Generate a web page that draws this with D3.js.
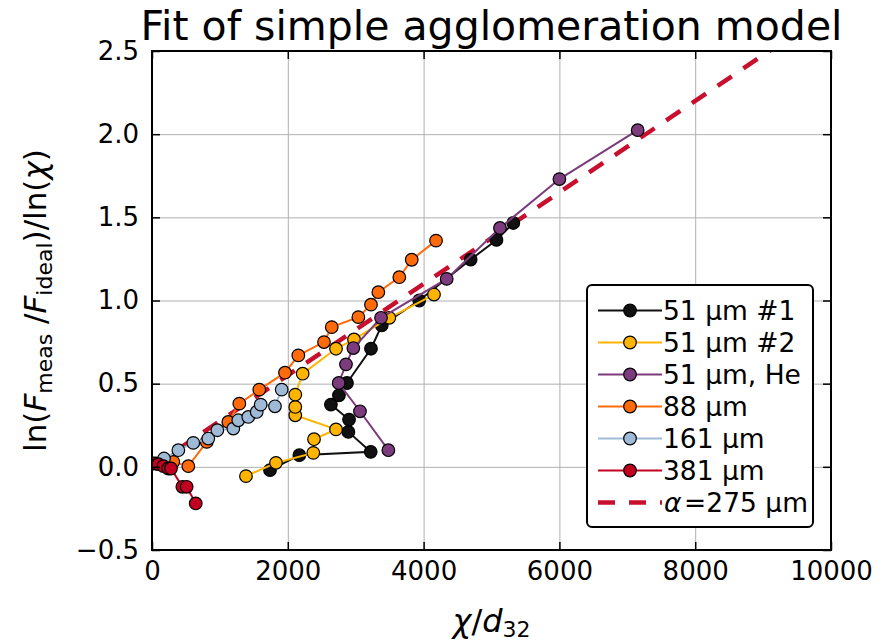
<!DOCTYPE html>
<html>
<head>
<meta charset="utf-8">
<script src="https://cdn.jsdelivr.net/npm/d3@7"></script>
<style>
    body { margin: 0; background: #fff; }
    text { font-family: "DejaVu Sans", sans-serif; fill: #000; }
    .grid line { stroke: #b0b0b0; stroke-width: 1; }
    .grid path { display: none; }
    .axis path { display: none; }
    .axis line { stroke: #000; stroke-width: 1.5; }
    .axis text { font-size: 26px; }
</style>
</head>
<body>
<script>
//series values (x = chi/d32, y = ln(Fmeas/Fideal)/ln(chi))
var seriesNames = ["51 \u00b5m #1", "51 \u00b5m #2", "51 \u00b5m, He", "88 \u00b5m", "161 \u00b5m", "381 \u00b5m"];
var seriesColors = ["#111111", "#ffb400", "#7c3b7c", "#ff6a0a", "#9fbad6", "#c2001f"];

var x51a = [1738, 2170, 3221, 2892, 2902, 2635, 2753, 2871, 3225, 3383, 3935, 4693, 5073, 5321];
var y51a = [-0.02, 0.07, 0.09, 0.21, 0.284, 0.374, 0.43, 0.504, 0.71, 0.85, 1.0, 1.246, 1.364, 1.466];

var x51b = [1384, 1826, 2376, 2386, 2710, 2110, 2110, 2110, 2219, 2710, 2975, 3495, 4153];
var y51b = [-0.056, 0.024, 0.084, 0.166, 0.225, 0.31, 0.36, 0.434, 0.56, 0.71, 0.766, 0.896, 1.036];

var x51he = [3481, 3063, 2750, 2857, 2965, 3373, 4340, 5125, 6000, 7153];
var y51he = [0.10, 0.334, 0.504, 0.616, 0.714, 0.896, 1.13, 1.436, 1.73, 2.024];

var x88 = [314, 535, 806, 1124, 1286, 1580, 1959, 2155, 2533, 2647, 3039, 3225, 3333, 3642, 3825, 4183];
var y88 = [0.03, 0.004, 0.15, 0.27, 0.38, 0.464, 0.566, 0.67, 0.75, 0.84, 0.90, 0.975, 1.05, 1.14, 1.245, 1.36];

var x161 = [60, 177, 388, 608, 829, 962, 1198, 1271, 1418, 1542, 1601, 1811, 1910];
var y161 = [0.02, 0.05, 0.1, 0.144, 0.17, 0.22, 0.23, 0.28, 0.30, 0.33, 0.374, 0.364, 0.464];

var x381 = [19, 93, 167, 240, 280, 447, 511, 644];
var y381 = [0.02, 0.016, 0.004, -0.01, -0.01, -0.12, -0.12, -0.22];

//model line: y = alpha * x, alpha = 275 um
var alpha = 275e-6;
var modelX = [0, 10000];

//tick labels
var xTicks = [0, 2000, 4000, 6000, 8000, 10000];
var yTicks = [-0.5, 0.0, 0.5, 1.0, 1.5, 2.0, 2.5];

(function(){
    window.onload = setChart();

    function setChart(){
        var width = 889,
            height = 643,
            left = 152,
            right = 831,
            top = 51,
            bottom = 550,
            innerWidth = right - left,
            innerHeight = bottom - top;

        var svg = d3.select("body")
            .append("svg")
            .attr("width", width)
            .attr("height", height);

        var xScale = d3.scaleLinear().domain([0, 10000]).range([left, right]);
        var yScale = d3.scaleLinear().domain([-0.5, 2.5]).range([bottom, top]);

        //grid
        svg.append("g")
            .attr("class", "grid")
            .attr("transform", "translate(0," + bottom + ")")
            .call(d3.axisBottom(xScale).tickValues(xTicks).tickSize(-innerHeight).tickFormat(""));
        svg.append("g")
            .attr("class", "grid")
            .attr("transform", "translate(" + left + ",0)")
            .call(d3.axisLeft(yScale).tickValues(yTicks).tickSize(-innerWidth).tickFormat(""));

        //clip for the data
        svg.append("clipPath")
            .attr("id", "plotClip")
            .append("rect")
            .attr("x", left)
            .attr("y", top)
            .attr("width", innerWidth)
            .attr("height", innerHeight);

        var plot = svg.append("g").attr("clip-path", "url(#plotClip)");

        var line = d3.line()
            .x(function(d){ return xScale(d[0]); })
            .y(function(d){ return yScale(d[1]); });

        //dashed model line sits under the data
        plot.append("path")
            .datum(modelX.map(function(v){ return [v, alpha * v]; }))
            .attr("d", line)
            .attr("fill", "none")
            .attr("stroke", "#c8102e")
            .attr("stroke-width", 4.5)
            .attr("stroke-dasharray", "17,14");

        var xs = [x51a, x51b, x51he, x88, x161, x381],
            ys = [y51a, y51b, y51he, y88, y161, y381];

        xs.forEach(function(xArr, i){
            var pts = xArr.map(function(v, j){ return [v, ys[i][j]]; });
            var g = plot.append("g");
            g.append("path")
                .datum(pts)
                .attr("d", line)
                .attr("fill", "none")
                .attr("stroke", seriesColors[i])
                .attr("stroke-width", 2);
            g.selectAll("circle")
                .data(pts)
                .enter()
                .append("circle")
                .attr("cx", function(d){ return xScale(d[0]); })
                .attr("cy", function(d){ return yScale(d[1]); })
                .attr("r", 6.3)
                .attr("fill", seriesColors[i])
                .attr("stroke", "#000")
                .attr("stroke-width", 1.2);
        });

        //axes with inward ticks on all four sides
        svg.append("g")
            .attr("class", "axis")
            .attr("transform", "translate(0," + bottom + ")")
            .call(d3.axisBottom(xScale).tickValues(xTicks).tickSizeInner(-8).tickSizeOuter(0).tickPadding(12)
                .tickFormat(d3.format("d")));
        svg.append("g")
            .attr("class", "axis")
            .attr("transform", "translate(0," + top + ")")
            .call(d3.axisTop(xScale).tickValues(xTicks).tickSizeInner(-8).tickSizeOuter(0).tickFormat(""));
        svg.append("g")
            .attr("class", "axis")
            .attr("transform", "translate(" + left + ",0)")
            .call(d3.axisLeft(yScale).tickValues(yTicks).tickSizeInner(-8).tickSizeOuter(0).tickPadding(13)
                .tickFormat(function(d){ return d3.format(".1f")(d).replace("-", "\u2212"); }));
        svg.append("g")
            .attr("class", "axis")
            .attr("transform", "translate(" + right + ",0)")
            .call(d3.axisRight(yScale).tickValues(yTicks).tickSizeInner(-8).tickSizeOuter(0).tickFormat(""));

        //frame
        svg.append("rect")
            .attr("x", left)
            .attr("y", top)
            .attr("width", innerWidth)
            .attr("height", innerHeight)
            .attr("fill", "none")
            .attr("stroke", "#000")
            .attr("stroke-width", 2);

        //title
        svg.append("text")
            .attr("x", (left + right) / 2)
            .attr("y", 40)
            .attr("text-anchor", "middle")
            .style("font-size", "41px")
            .text("Fit of simple agglomeration model");

        //x label
        var xLab = svg.append("text")
            .attr("x", (left + right) / 2)
            .attr("y", 632)
            .attr("text-anchor", "middle")
            .style("font-size", "32px");
        xLab.append("tspan").style("font-style", "italic").text("\u03c7");
        xLab.append("tspan").text("/");
        xLab.append("tspan").style("font-style", "italic").text("d");
        xLab.append("tspan").attr("dy", 5).style("font-size", "22px").text("32");

        //y label
        var yLab = svg.append("text")
            .attr("transform", "translate(46," + (top + bottom) / 2 + ") rotate(-90)")
            .attr("text-anchor", "middle")
            .style("font-size", "31px");
        yLab.append("tspan").text("ln(");
        yLab.append("tspan").style("font-style", "italic").text("F");
        yLab.append("tspan").attr("dy", 6).style("font-size", "22px").text("meas");
        yLab.append("tspan").attr("dy", -6).text(" /");
        yLab.append("tspan").style("font-style", "italic").text("F");
        yLab.append("tspan").attr("dy", 6).style("font-size", "22px").text("ideal");
        yLab.append("tspan").attr("dy", -6).text(")/ln(");
        yLab.append("tspan").style("font-style", "italic").text("\u03c7");
        yLab.append("tspan").text(")");

        //legend
        var legend = svg.append("g");
        legend.append("rect")
            .attr("x", 587)
            .attr("y", 285)
            .attr("width", 226)
            .attr("height", 242)
            .attr("rx", 5)
            .attr("fill", "#fff")
            .attr("stroke", "#000")
            .attr("stroke-width", 2);

        seriesNames.forEach(function(name, i){
            var ly = 310.5 + i * 32;
            legend.append("line")
                .attr("x1", 598).attr("x2", 662)
                .attr("y1", ly).attr("y2", ly)
                .attr("stroke", seriesColors[i])
                .attr("stroke-width", 2);
            legend.append("circle")
                .attr("cx", 630).attr("cy", ly)
                .attr("r", 6.3)
                .attr("fill", seriesColors[i])
                .attr("stroke", "#000")
                .attr("stroke-width", 1.2);
            legend.append("text")
                .attr("x", 663).attr("y", ly + 9.5)
                .style("font-size", "26.5px")
                .text(name);
        });

        var dy = 310.5 + 6 * 32;
        legend.append("line")
            .attr("x1", 598).attr("x2", 662)
            .attr("y1", dy).attr("y2", dy)
            .attr("stroke", "#c8102e")
            .attr("stroke-width", 4.5)
            .attr("stroke-dasharray", "17,14");
        var aLab = legend.append("text")
            .attr("x", 664).attr("y", dy + 9.5)
            .style("font-size", "26.5px");
        aLab.append("tspan").style("font-style", "italic").text("\u03b1");
        aLab.append("tspan").text("\u200a=275 \u00b5m");
    };
})();
</script>
</body>
</html>
